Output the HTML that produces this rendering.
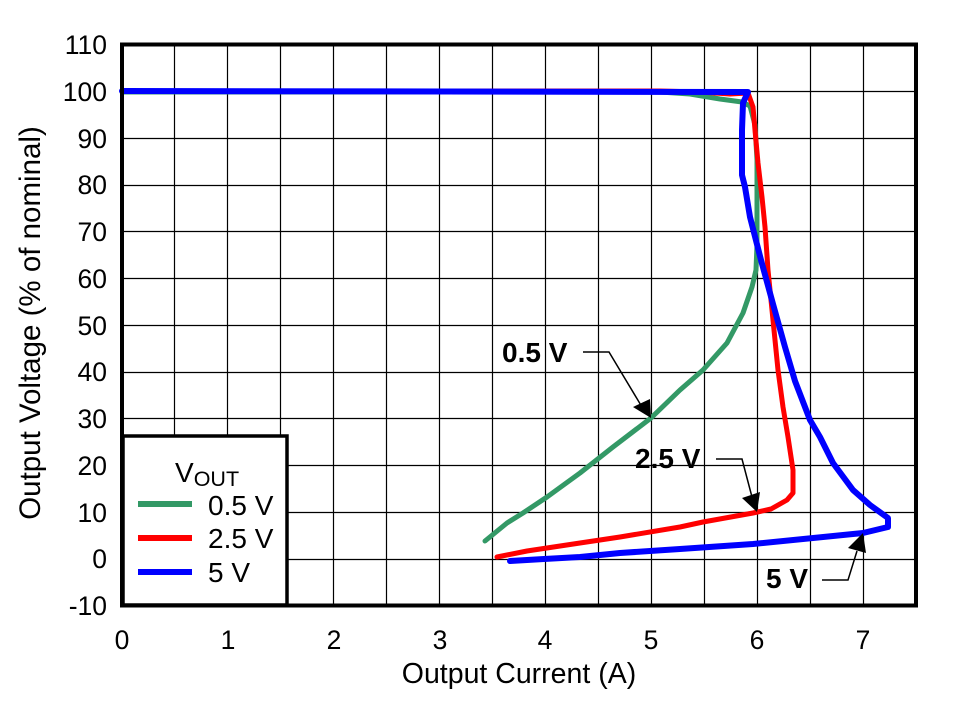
<!DOCTYPE html>
<html><head><meta charset="utf-8"><style>
html,body{margin:0;padding:0;background:#fff;}
svg{display:block;}
text{font-family:"Liberation Sans",Arial,sans-serif;fill:#000;}
</style></head><body>
<svg width="960" height="701" viewBox="0 0 960 701" xmlns="http://www.w3.org/2000/svg">
<rect width="960" height="701" fill="#fff"/>
<g stroke="#000" stroke-width="1.2" fill="none">
<path d="M174.5,45V605M227.5,45V605M280.5,45V605M333.5,45V605M386.5,45V605M439.5,45V605M492.5,45V605M545.5,45V605M598.5,45V605M651.5,45V605M704.5,45V605M757.5,45V605M810.5,45V605M863.5,45V605"/>
<path d="M122,91.5H916M122,138.5H916M122,185.5H916M122,231.5H916M122,278.5H916M122,325.5H916M122,372.5H916M122,418.5H916M122,465.5H916M122,512.5H916M122,559.5H916"/>
</g>
<g fill="none" stroke-linejoin="round" stroke-linecap="round">
<polyline stroke="#339966" stroke-width="5" points="122,92 660,92 690,94 720,99 742,102 750,106 755,125 757,160 757,215 757,245 756,270 752,287 743,313 727,343 703,370 680,390 651,418 613,447 580,473 547,497 523,513 507,523 485,541"/>
<polyline stroke="#ff0000" stroke-width="5" points="122,91 660,91 700,92 730,94 748,93 753,107 755,130 758,163 762,197 765,227 768,270 773,320 778,370 783,407 788,437 793,470 793,493 787,500 771,509 753,513 703,522 680,527 620,537 580,543 527,551 497,557"/>
<polyline stroke="#0000ff" stroke-width="6" points="122,91 748,92 743,103 742,130 742,175 745,187 750,217 761,260 773,304 785,347 795,381 810,420 820,437 833,463 853,490 870,505 888,518 888,527 863,533 753,544 680,549 620,553 580,557 544,559 510,561"/>
</g>
<rect x="122" y="44.5" width="794" height="561" fill="none" stroke="#000" stroke-width="4"/>
<!-- legend -->
<rect x="123" y="436" width="164" height="169" fill="#fff" stroke="#000" stroke-width="3.5"/>
<text x="175" y="482" font-size="28">V<tspan font-size="21.5" dy="4">OUT</tspan></text>
<line x1="138" y1="504" x2="192" y2="504" stroke="#339966" stroke-width="6"/>
<line x1="138" y1="538" x2="192" y2="538" stroke="#ff0000" stroke-width="6"/>
<line x1="138" y1="572" x2="192" y2="572" stroke="#0000ff" stroke-width="6"/>
<text x="208" y="515" font-size="28">0.5 V</text>
<text x="208" y="548" font-size="28">2.5 V</text>
<text x="208" y="582" font-size="28">5 V</text>
<!-- y ticks -->
<g font-size="26.5" text-anchor="end">
<text x="107" y="54">110</text>
<text x="107" y="101">100</text>
<text x="107" y="148">90</text>
<text x="107" y="194">80</text>
<text x="107" y="241">70</text>
<text x="107" y="288">60</text>
<text x="107" y="335">50</text>
<text x="107" y="381">40</text>
<text x="107" y="428">30</text>
<text x="107" y="475">20</text>
<text x="107" y="522">10</text>
<text x="107" y="568">0</text>
<text x="107" y="615">-10</text>
</g>
<g font-size="26.5" text-anchor="middle">
<text x="122" y="649">0</text>
<text x="228" y="649">1</text>
<text x="334" y="649">2</text>
<text x="440" y="649">3</text>
<text x="545" y="649">4</text>
<text x="651" y="649">5</text>
<text x="757" y="649">6</text>
<text x="863" y="649">7</text>
</g>
<text x="519" y="683" font-size="28.5" text-anchor="middle">Output Current (A)</text>
<text transform="translate(40,323) rotate(-90)" font-size="29.5" text-anchor="middle">Output Voltage (% of nominal)</text>
<!-- annotations -->
<g font-size="28" font-weight="bold">
<text x="502" y="362">0.5 V</text>
<text x="635" y="468">2.5 V</text>
<text x="766" y="588">5 V</text>
</g>
<g stroke="#000" stroke-width="1.5" fill="none">
<polyline points="583,352 609,352 642,407"/>
<polyline points="716,459 742,459 752,497"/>
<polyline points="822,580 848,580 857,551"/>
</g>
<g fill="#000">
<polygon points="651,418 633,407 650,399"/>
<polygon points="757,512 742,498 760,492"/>
<polygon points="863,533 848,548 866,553"/>
</g>
</svg>
</body></html>
